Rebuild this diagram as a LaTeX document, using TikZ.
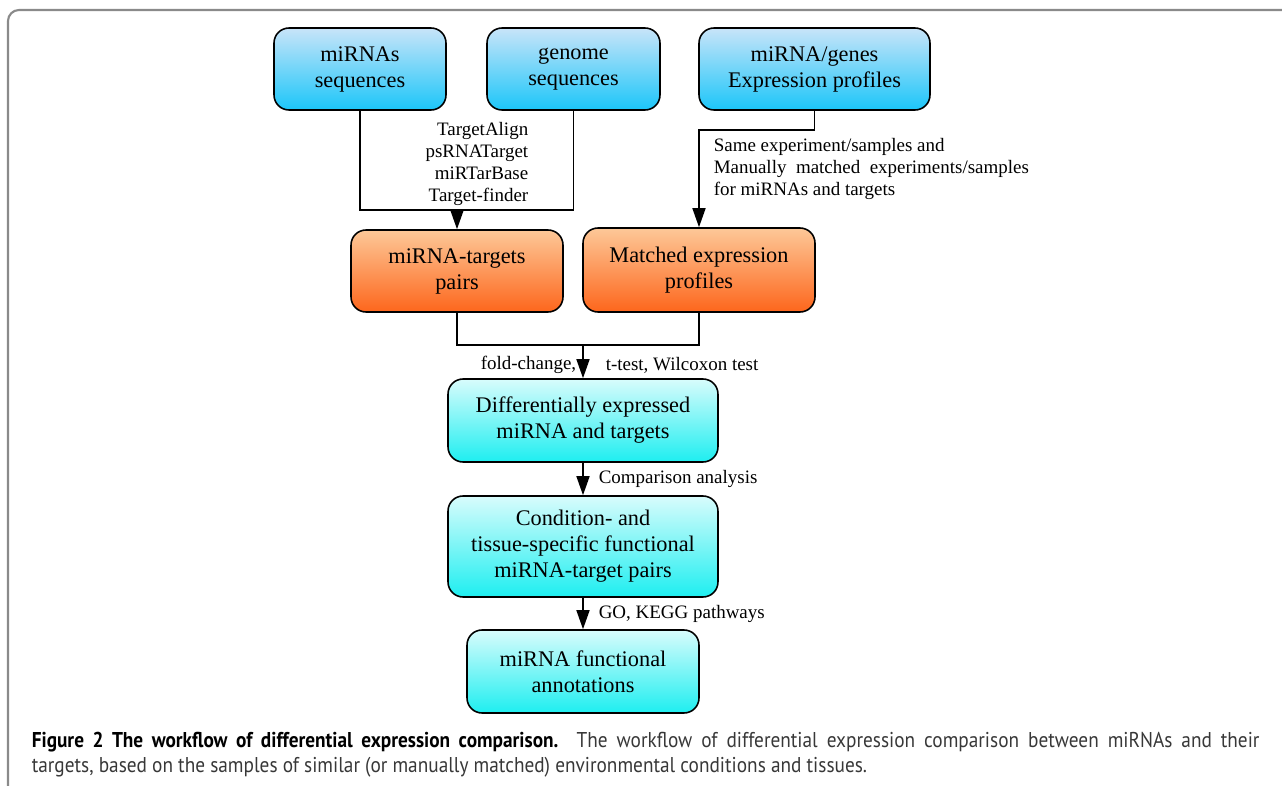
\documentclass[tikz,border=0pt]{standalone}
\usepackage{fontspec}
\setmainfont{Liberation Serif}
\newfontfamily\capfont[FakeStretch=0.9]{PT Sans}
\usetikzlibrary{arrows.meta}
\definecolor{srcTop}{HTML}{C8E4F9}
\definecolor{srcBot}{HTML}{1CC6F9}
\definecolor{midTop}{HTML}{FDC898}
\definecolor{midBot}{HTML}{FD661C}
\definecolor{resTop}{HTML}{D8FCFC}
\definecolor{resBot}{HTML}{1EEEF0}
\definecolor{frameGray}{HTML}{8A8A8A}

\begin{document}
\begin{tikzpicture}[x=0.02cm,y=-0.02cm,line width=0.9pt,>={Triangle[length=3.8mm,width=2.6mm]},
    box/.style={draw,rounded corners=0.3cm,align=center,inner sep=0pt,font=\fontsize{12.7}{14.8}\selectfont},
    srcbox/.style={box,top color=srcTop,bottom color=srcBot},
    midbox/.style={box,top color=midTop,bottom color=midBot},
    resbox/.style={box,top color=resTop,bottom color=resBot},
    lbl/.style={inner sep=0pt,font=\fontsize{10.8}{12.5}\selectfont}]
    \useasboundingbox (0,0) rectangle (1282,786);
    \draw[frameGray,line width=1.2pt,rounded corners=0.22cm] (8,786) -- (8,10) -- (1282,10);
    % inputs
    \node[srcbox,minimum width=3.44cm,minimum height=1.64cm] (mirseq) at (360,69) {miRNAs\\sequences};
    \node[srcbox,minimum width=3.46cm,minimum height=1.64cm] (genseq) at (573.5,69) {genome\\sequences};
    \node[srcbox,minimum width=4.62cm,minimum height=1.64cm] (expr) at (814.5,69) {miRNA/genes\\Expression profiles};
    \node[midbox,minimum width=4.24cm,minimum height=1.64cm] (pairs) at (457,271) {miRNA-targets\\pairs};
    \node[midbox,minimum width=4.64cm,minimum height=1.68cm] (matched) at (699,270) {Matched expression\\profiles};
    \node[resbox,minimum width=5.4cm,minimum height=1.66cm] (diffexp) at (583,420.5) {Differentially expressed\\miRNA and targets};
    \node[resbox,minimum width=5.4cm,minimum height=2.02cm] (funcpairs) at (583,546.5) {Condition- and\\tissue-specific functional\\miRNA-target pairs};
    \node[resbox,minimum width=4.64cm,minimum height=1.66cm] (annot) at (583,671.5) {miRNA functional\\annotations};
    % connectors
    \coordinate (j1) at (457,210);
    \draw (mirseq.south) |- (j1) -| (genseq.south);
    \draw[->] (j1) -- (pairs.north);
    \node[lbl,align=right,anchor=east] (tools) at (529,164) {TargetAlign\\psRNATarget\\miRTarBase\\Target-finder};
    \coordinate (j2) at (699,130);
    \draw[->] (expr.south) |- (j2) -- (matched.north);
    \node[lbl,align=left,anchor=west] (same) at (713,169) {Same experiment/samples and\\Manually\ \ matched\ \ experiments/samples\\for miRNAs and targets};
    \coordinate (j3) at (583,345);
    \draw (pairs.south) |- (j3) -| (matched.south);
    \draw[->] (j3) -- (diffexp.north);
    \node[lbl,anchor=east] (fold) at (577,365) {fold-change,};
    \node[lbl,anchor=west] (ttest) at (605,365) {t-test, Wilcoxon test};
    \draw[->] (diffexp) -- node[lbl,right=0.3cm] (comp) {Comparison analysis} (funcpairs);
    \draw[->] (funcpairs) -- node[lbl,right=0.3cm] (gokegg) {GO, KEGG pathways} (annot);
    % caption
    \node[anchor=north west,inner sep=0pt,text width=24.56cm,align=justify,text=black!78,font=\capfont\fontsize{12.2}{14.2}\selectfont] (caption) at (31,731)
      {\textbf{\color{black}Figure 2 The workflow of differential expression comparison.} The workflow of differential expression comparison between miRNAs and their\linebreak
       targets, based on the samples of similar (or manually matched) environmental conditions and tissues.};
\end{tikzpicture}
\end{document}
